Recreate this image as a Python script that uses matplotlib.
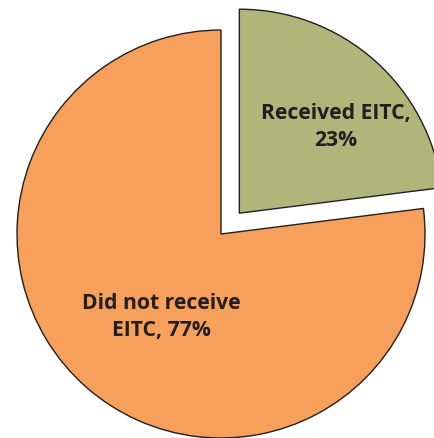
import matplotlib
matplotlib.use("Agg")
import matplotlib.pyplot as plt

labels = ["Received EITC", "Did not receive\nEITC"]
shares = [23, 77]
colors = ["#B0B57A", "#F7A05B"]
explode = [0.136, 0.0]

W, H, DPI = 435, 439, 100
fig = plt.figure(figsize=(W / DPI, H / DPI), dpi=DPI)
ax = fig.add_axes([0, 0, 1, 1])

R = 204.0  # pie radius in pixels
cx, cy = 221.0, 204.0  # pie centre in pixels (from bottom-left)

ax.pie(shares, colors=colors, explode=explode, startangle=90,
       counterclock=False, radius=1.0,
       wedgeprops=dict(edgecolor="#231F20", linewidth=1.0))
ax.set_xlim(-cx / R, (W - cx) / R)
ax.set_ylim(-cy / R, (H - cy) / R)
ax.set_aspect("equal")
ax.axis("off")

text_pos = [(0.564, 0.531), (-0.294, -0.403)]
for lab, val, (tx, ty) in zip(labels, shares, text_pos):
    sep = ",\n" if "\n" not in lab else ", "
    ax.text(tx, ty, f"{lab}{sep}{val}%", ha="center", va="center",
            fontsize=15.2, fontweight="bold", family="Open Sans",
            color="#231F20", linespacing=1.38)

fig.savefig("out.png", dpi=DPI)
